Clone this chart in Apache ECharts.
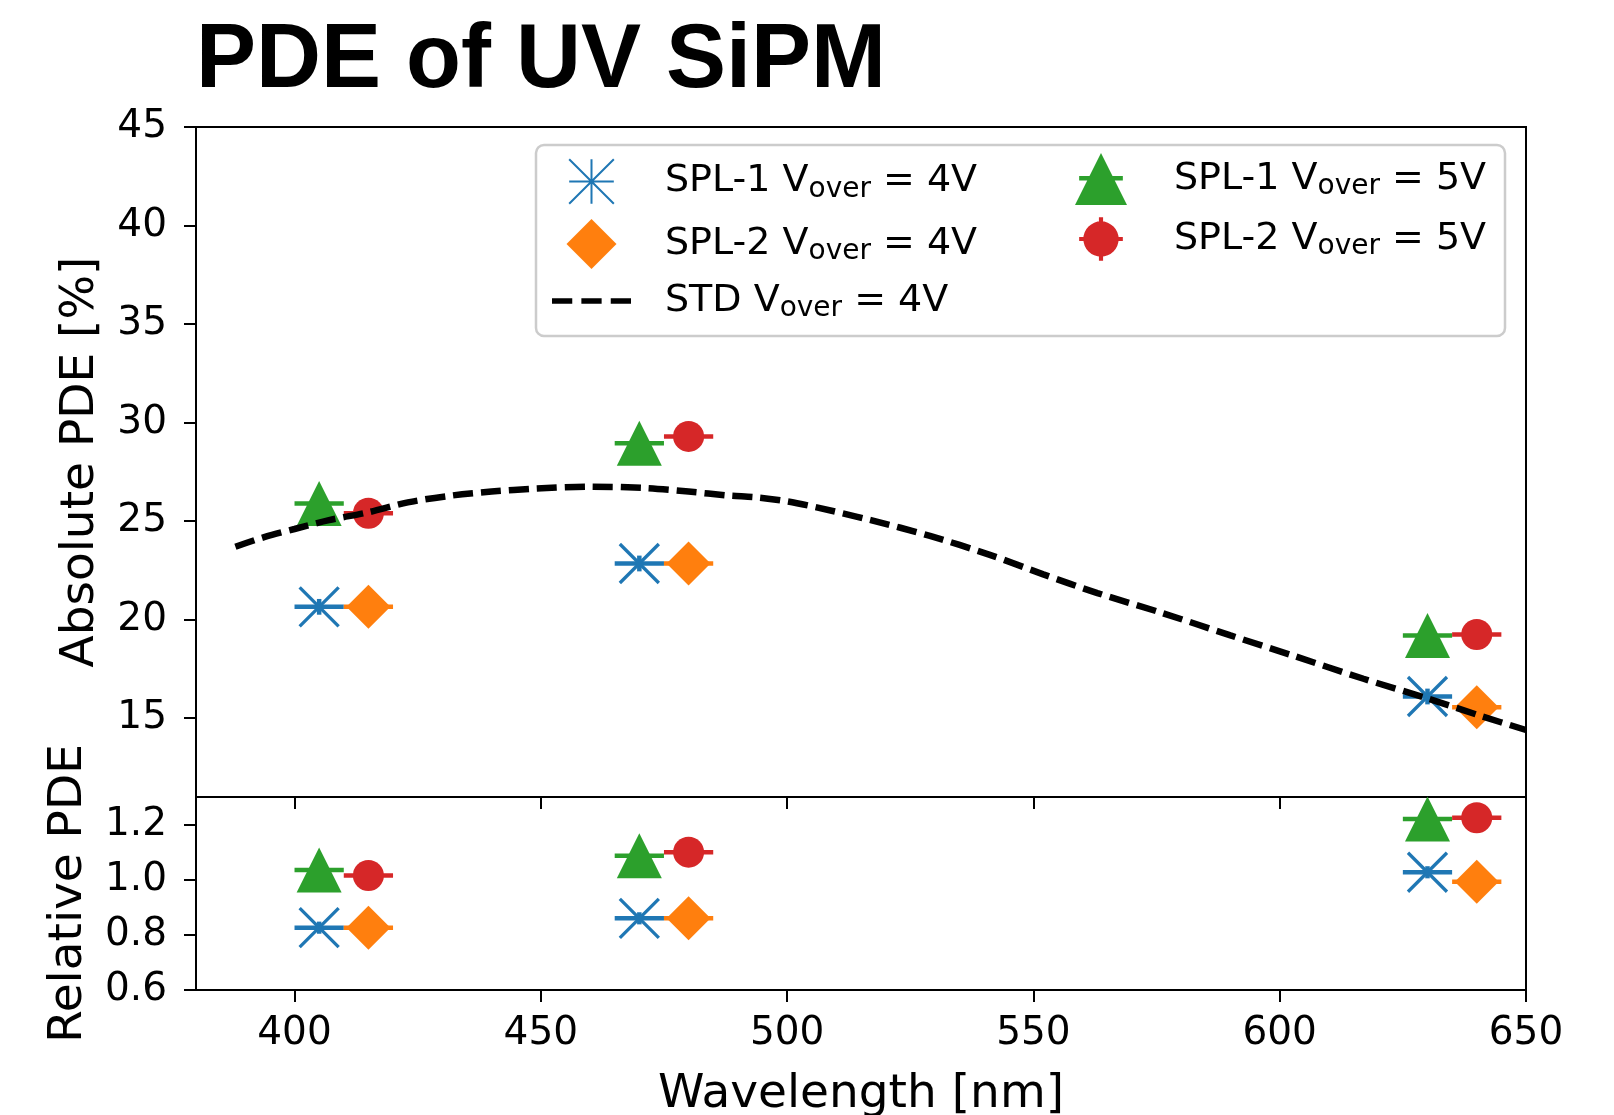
<!DOCTYPE html>
<html>
<head>
<meta charset="utf-8">
<title>PDE of UV SiPM</title>
<script src="https://cdn.jsdelivr.net/npm/echarts@6/dist/echarts.min.js"></script>
<style>
    html, body { margin: 0; padding: 0; background: #fff; }
    #chart1 { width: 1614px; height: 1115px; }
</style>
</head>
<body>
<div id="chart1"></div>
<script>
// wavelengths [nm]
var wlSpl1 = [405, 470, 630];
var wlSpl2 = [415, 480, 640];
var wlErr = 5;

// absolute PDE [%]
var absSpl1V4 = [20.65, 22.85, 16.1];
var absSpl2V4 = [20.65, 22.85, 15.55];
var absSpl1V5 = [25.9, 28.95, 19.2];
var absSpl2V5 = [25.4, 29.3, 19.25];
var absErr = 0.4;

// relative PDE
var relSpl1V4 = [0.826, 0.86, 1.027];
var relSpl2V4 = [0.826, 0.86, 0.993];
var relSpl1V5 = [1.035, 1.087, 1.22];
var relSpl2V5 = [1.015, 1.10, 1.225];
var relErr = 0.022;

// STD Vover = 4V curve
var stdWl = [388, 394, 400, 407, 415, 423, 432, 440, 449, 460, 471, 480, 488, 494, 500, 506, 517, 529, 541, 552, 563, 576, 590, 603, 617, 630, 641, 650];
var stdPde = [23.7, 24.2, 24.6, 25.05, 25.45, 25.95, 26.3, 26.5, 26.65, 26.75, 26.68, 26.5, 26.3, 26.2, 26.0, 25.7, 25.05, 24.25, 23.3, 22.3, 21.35, 20.35, 19.2, 18.15, 17.0, 16.0, 15.1, 14.4];

// ticks
var xTicks = [400, 450, 500, 550, 600, 650];
var absTicks = [15, 20, 25, 30, 35, 40, 45];
var relTicks = [0.6, 0.8, 1.0, 1.2];

var names = ['SPL-1 Vover = 4V', 'SPL-2 Vover = 4V', 'STD Vover = 4V', 'SPL-1 Vover = 5V', 'SPL-2 Vover = 5V'];

var BLUE = '#1f77b4', ORANGE = '#ff7f0e', GREEN = '#2ca02c', RED = '#d62728';
var FONT = 'DejaVu Sans';

// marker / legend icon shapes
var X_PATH = 'path://M0,0L10,10M10,0L0,10';
var X_ICON = 'path://M-0.6,-0.6M10.6,10.6M0,0L10,10M10,0L0,10M5,0L5,10M0,5L10,5';
var DIAMOND_ICON = 'path://M50,0L100,50L50,100L0,50Z';
var TRI_ICON = 'path://M50,0L100,100L0,100ZM8,44h84v9h-84z';
var CIRCLE_ICON = 'path://M0,0M100,100M16,50A34,34,0,1,1,84,50A34,34,0,1,1,16,50ZM46,8h8v84h-8zM8,46h84v8h-84z';
var DASH_PATH = 'path://M0,0h20v5.5h-20zM29,0h20v5.5h-20zM58,0h20v5.5h-20z';

function pairs(xs, ys) {
    var out = [];
    for (var i = 0; i < xs.length; i++) out.push([xs[i], ys[i]]);
    return out;
}

function errSeries(color, xs, ys, yErr, idx) {
    return {
        type: 'custom',
        name: 'err',
        xAxisIndex: idx,
        yAxisIndex: idx,
        silent: true,
        renderItem: function (params, api) {
            var x = api.value(0), y = api.value(1);
            var l = api.coord([x - wlErr, y]);
            var r = api.coord([x + wlErr, y]);
            var t = api.coord([x, y + yErr]);
            var b = api.coord([x, y - yErr]);
            return {
                type: 'group',
                children: [
                    {type: 'line', shape: {x1: l[0], y1: l[1], x2: r[0], y2: r[1]}, style: {stroke: color, lineWidth: 4.5}},
                    {type: 'line', shape: {x1: t[0], y1: t[1], x2: b[0], y2: b[1]}, style: {stroke: color, lineWidth: 4.5}}
                ]
            };
        },
        data: pairs(xs, ys)
    };
}

function markSeries(name, kind, xs, ys, idx) {
    var s = {
        type: 'scatter',
        name: name,
        xAxisIndex: idx,
        yAxisIndex: idx,
        data: pairs(xs, ys),
        emphasis: {disabled: true}
    };
    if (kind === 'x') {
        s.symbol = X_PATH;
        s.symbolSize = 39;
        s.itemStyle = {color: 'none', borderColor: BLUE, borderWidth: 3.3, opacity: 1};
    } else if (kind === 'diamond') {
        s.symbol = 'diamond';
        s.symbolSize = [44, 44];
        s.itemStyle = {color: ORANGE, opacity: 1};
    } else if (kind === 'triangle') {
        s.symbol = 'triangle';
        s.symbolSize = [45, 45];
        s.itemStyle = {color: GREEN, opacity: 1};
    } else {
        s.symbol = 'circle';
        s.symbolSize = 31;
        s.itemStyle = {color: RED, opacity: 1};
    }
    return s;
}

function legendText(name) {
    var p = name.split('Vover');
    return '{a|' + p[0] + 'V}{b|over}{a|' + p[1] + '}';
}

var legendRich = {
    a: {fontFamily: FONT, fontSize: 38, color: '#000', lineHeight: 46},
    b: {fontFamily: FONT, fontSize: 28, color: '#000', lineHeight: 46, padding: [16, 0, 0, 0]}
};

var dom = document.getElementById("chart1");
var myChart = echarts.init(dom, null, {renderer: 'canvas'});

var axisCommon = {
    axisLine: {show: true, lineStyle: {color: '#000', width: 2}},
    axisTick: {show: true, inside: false, length: 12, lineStyle: {color: '#000', width: 2}},
    splitLine: {show: false}
};

var option = {
    animation: false,
    backgroundColor: '#fff',
    title: {
        text: 'PDE of UV SiPM',
        left: 191,
        top: 12,
        textStyle: {fontFamily: 'Liberation Sans', fontWeight: 'bold', fontSize: 90, color: '#000'}
    },
    graphic: [{
        type: 'rect',
        shape: {x: 536, y: 145, width: 969, height: 191, r: 8},
        style: {fill: 'rgba(255,255,255,0.8)', stroke: '#cccccc', lineWidth: 2.5},
        z: 50
    }],
    legend: [{
        orient: 'vertical',
        left: 552,
        top: 154,
        padding: 0,
        itemWidth: 79,
        itemHeight: 50,
        itemGap: 10,
        selectedMode: false,
        z: 60,
        lineStyle: {width: 0, opacity: 0},
        data: [
            {name: names[0], icon: X_ICON},
            {name: names[1], icon: DIAMOND_ICON},
            {name: names[2], icon: DASH_PATH, itemStyle: {color: '#000', opacity: 1}}
        ],
        formatter: legendText,
        textStyle: {padding: [0, 0, 0, 29], rich: legendRich}
    }, {
        orient: 'vertical',
        left: 1075,
        top: 153,
        padding: 0,
        itemWidth: 52,
        itemHeight: 52,
        itemGap: 8,
        selectedMode: false,
        z: 60,
        data: [
            {name: names[3], icon: TRI_ICON},
            {name: names[4], icon: CIRCLE_ICON}
        ],
        formatter: legendText,
        textStyle: {padding: [0, 0, 0, 42], rich: legendRich}
    }],
    grid: [
        {left: 196, top: 127, width: 1330, height: 670, show: true, borderColor: '#000', borderWidth: 2,
            backgroundColor: 'transparent', outerBoundsMode: 'none'},
        {left: 196, top: 797, width: 1330, height: 193, show: true, borderColor: '#000', borderWidth: 2,
            backgroundColor: 'transparent', outerBoundsMode: 'none'}
    ],
    xAxis: [
        echarts.util.merge({
            type: 'value', gridIndex: 0, min: 380, max: 650,
            axisLabel: {show: false},
            axisTick: {customValues: xTicks}
        }, axisCommon),
        echarts.util.merge({
            type: 'value', gridIndex: 1, min: 380, max: 650,
            name: 'Wavelength [nm]',
            nameLocation: 'middle',
            nameGap: 81,
            nameTextStyle: {fontFamily: FONT, fontSize: 47, color: '#000'},
            axisLabel: {customValues: xTicks, fontFamily: FONT, fontSize: 39, color: '#000', margin: 24},
            axisTick: {customValues: xTicks}
        }, axisCommon)
    ],
    yAxis: [
        echarts.util.merge({
            type: 'value', gridIndex: 0, min: 11, max: 45,
            name: 'Absolute PDE [%]',
            nameLocation: 'middle',
            nameGap: 92,
            nameTextStyle: {fontFamily: FONT, fontSize: 47, color: '#000'},
            axisLabel: {customValues: absTicks, fontFamily: FONT, fontSize: 39, color: '#000', margin: 29},
            axisTick: {customValues: absTicks}
        }, axisCommon),
        echarts.util.merge({
            type: 'value', gridIndex: 1, min: 0.6, max: 1.3,
            name: 'Relative PDE',
            nameLocation: 'middle',
            nameGap: 104,
            nameTextStyle: {fontFamily: FONT, fontSize: 47, color: '#000'},
            axisLabel: {
                customValues: relTicks, fontFamily: FONT, fontSize: 39, color: '#000', margin: 29,
                formatter: function (v) { return v.toFixed(1); }
            },
            axisTick: {customValues: relTicks}
        }, axisCommon)
    ],
    series: [
        errSeries(BLUE, wlSpl1, absSpl1V4, absErr, 0),
        markSeries(names[0], 'x', wlSpl1, absSpl1V4, 0),
        errSeries(ORANGE, wlSpl2, absSpl2V4, absErr, 0),
        markSeries(names[1], 'diamond', wlSpl2, absSpl2V4, 0),
        {
            type: 'line',
            name: names[2],
            xAxisIndex: 0,
            yAxisIndex: 0,
            data: pairs(stdWl, stdPde),
            symbol: 'none',
            showSymbol: false,
            smooth: 0.3,
            lineStyle: {color: '#000', width: 6.5, type: [20, 8]},
            itemStyle: {color: '#000'},
            emphasis: {disabled: true}
        },
        errSeries(GREEN, wlSpl1, absSpl1V5, absErr, 0),
        markSeries(names[3], 'triangle', wlSpl1, absSpl1V5, 0),
        errSeries(RED, wlSpl2, absSpl2V5, absErr, 0),
        markSeries(names[4], 'circle', wlSpl2, absSpl2V5, 0),

        errSeries(BLUE, wlSpl1, relSpl1V4, relErr, 1),
        markSeries(names[0], 'x', wlSpl1, relSpl1V4, 1),
        errSeries(ORANGE, wlSpl2, relSpl2V4, relErr, 1),
        markSeries(names[1], 'diamond', wlSpl2, relSpl2V4, 1),
        errSeries(GREEN, wlSpl1, relSpl1V5, relErr, 1),
        markSeries(names[3], 'triangle', wlSpl1, relSpl1V5, 1),
        errSeries(RED, wlSpl2, relSpl2V5, relErr, 1),
        markSeries(names[4], 'circle', wlSpl2, relSpl2V5, 1)
    ]
};

if (option && typeof option === "object") {
    myChart.setOption(option, true);
}
</script>
</body>
</html>
